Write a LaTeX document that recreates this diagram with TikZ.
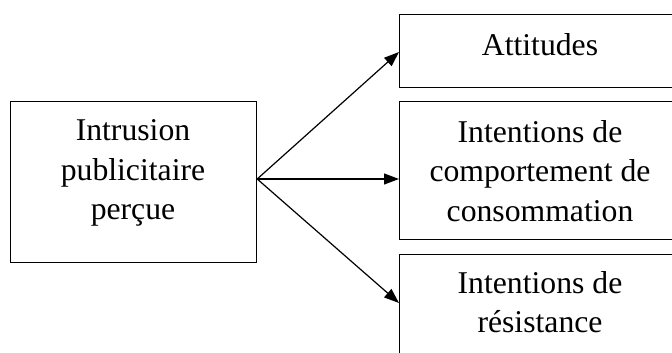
\documentclass[tikz,border=0pt]{standalone}
\usepackage{fontspec}
\setmainfont{Liberation Serif}
\usetikzlibrary{arrows.meta}
\begin{document}
\begin{tikzpicture}[x=1pt,y=-1pt,
  box/.style={draw,line width=1.2pt,minimum width=#1,inner sep=0pt,anchor=north west},
  label/.style={font=\fontsize{31.7}{39.5}\selectfont,align=center,inner sep=0pt,anchor=north},
  link/.style={line width=1.2pt,-{Triangle[length=15pt,width=11pt]}}]
\useasboundingbox (0,0) rectangle (672,353);
\clip (0,0) rectangle (672,353);
% boxes
\node[box=246pt,minimum height=161.5pt] (L) at (10,100.5) {};
\node[box=282pt,minimum height=73pt] (A) at (399,14) {};
\node[box=282pt,minimum height=138pt] (M) at (399,101) {};
\node[box=282pt,minimum height=120pt] (R) at (399,254) {};
% texts
\node[label] (Lt) at (133,119.7) {Intrusion\\publicitaire\\perçue};
\node[label] (At) at (540,33.35) {Attitudes};
\node[label] (Mt) at (540,120) {Intentions de\\comportement de\\consommation};
\node[label] (Rt) at (540,271.3) {Intentions de\\résistance};
% connector ends
\coordinate (src) at (L.east |- 0,179);
\coordinate (eA) at (A.west |- 0,52);
\coordinate (eM) at (M.west |- 0,179);
\coordinate (eR) at (R.west |- 0,303);
\draw[link] (src) -- (eA);
\draw[link] (src) -- (eM);
\draw[link] (src) -- (eR);
\end{tikzpicture}
\end{document}
